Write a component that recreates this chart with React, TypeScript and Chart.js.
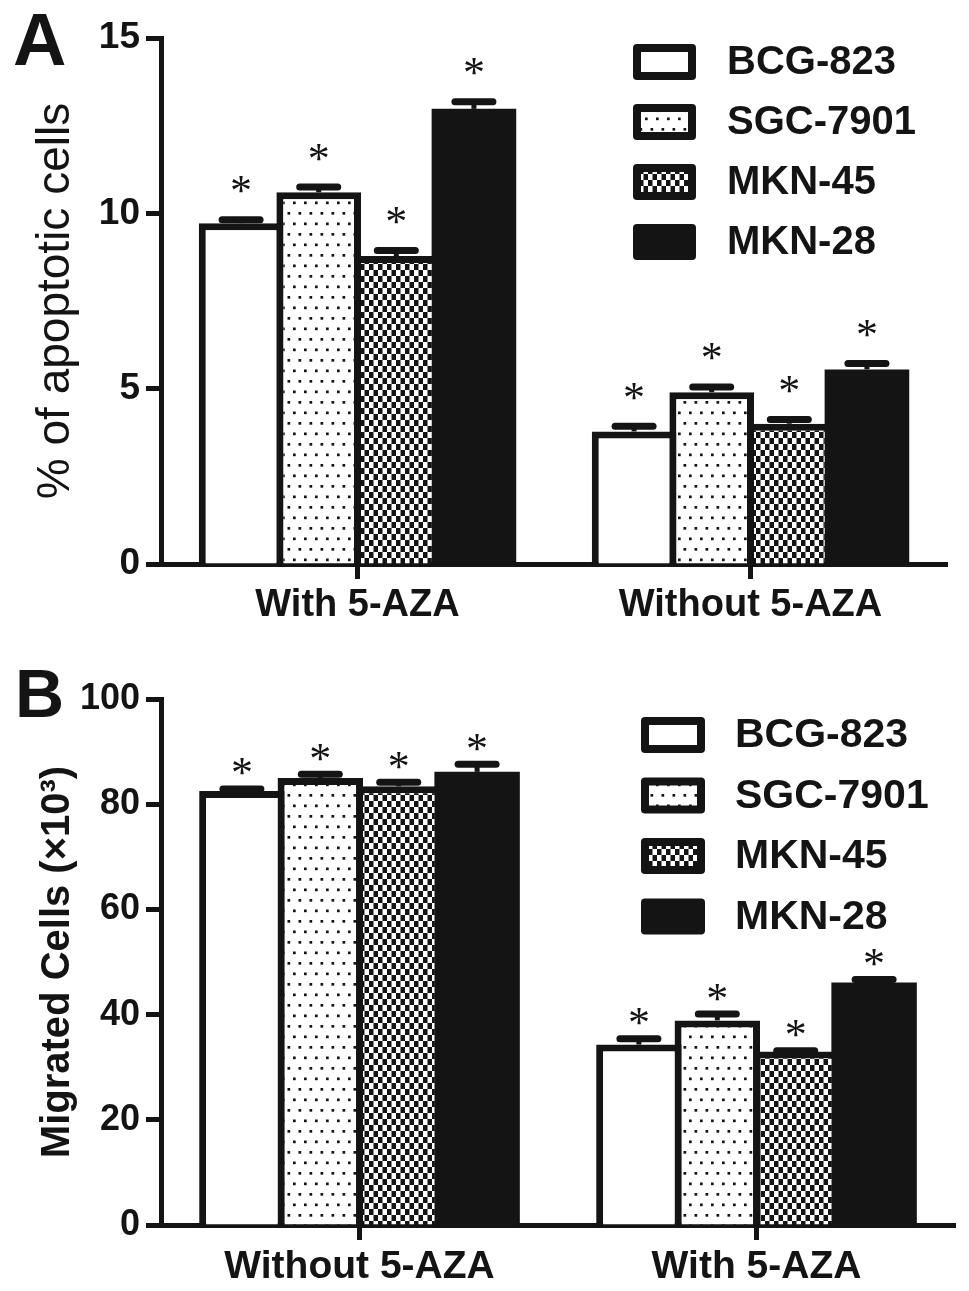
import React, { useEffect, useRef } from 'react';
import { Chart, registerables } from 'chart.js';

Chart.register(...registerables);

const INK = '#141414';
const FONT = '"Liberation Sans", Arial, sans-serif';

const seriesNames = ['BCG-823', 'SGC-7901', 'MKN-45', 'MKN-28'];

// Panel A: % of apoptotic cells
const apoGroups = ['With 5-AZA', 'Without 5-AZA'];
const apoBCG823 = [9.72, 3.78];
const apoSGC7901 = [10.6, 4.9];
const apoMKN45 = [8.78, 4.0];
const apoMKN28 = [12.98, 5.55];
const apoErrBCG823 = [0.1, 0.15];
const apoErrSGC7901 = [0.15, 0.15];
const apoErrMKN45 = [0.16, 0.12];
const apoErrMKN28 = [0.2, 0.17];
const apoTicks = [0, 5, 10, 15];

// Panel B: migrated cells (x10^3)
const migGroups = ['Without 5-AZA', 'With 5-AZA'];
const migBCG823 = [82.5, 34.3];
const migSGC7901 = [85.0, 38.9];
const migMKN45 = [83.4, 33.0];
const migMKN28 = [86.15, 46.1];
const migErrBCG823 = [0.4, 1.1];
const migErrSGC7901 = [0.7, 1.2];
const migErrMKN45 = [0.75, 0.15];
const migErrMKN28 = [1.45, 0.55];
const migTicks = [0, 20, 40, 60, 80, 100];

interface PanelProps {
  height: number;
  letter: string;
  letterSize: number;
  letterX: number;
  letterY: number;
  groups: string[];
  means: number[][];
  errors: number[][];
  yTicks: number[];
  yTitle: string;
  yTitleBold: boolean;
  yTitleSize: number;
  yTitlePad: number;
  tickSize: number;
  xLabelSize: number;
  padTop: number;
  padRight: number;
  plotBottom: number;
  starGap: number;
  legend: { x: number; top: number; pitch: number; w: number; h: number; textX: number; font: number };
}

function makeFills(ctx: CanvasRenderingContext2D): (string | CanvasPattern)[] {
  const dotTile = document.createElement('canvas');
  dotTile.width = 11;
  dotTile.height = 21;
  const d = dotTile.getContext('2d')!;
  d.fillStyle = '#fff';
  d.fillRect(0, 0, 11, 21);
  d.fillStyle = INK;
  d.fillRect(1.5, 2, 2.7, 2.7);
  d.fillRect(7, 12.5, 2.7, 2.7);

  const checkTile = document.createElement('canvas');
  checkTile.width = 9;
  checkTile.height = 12;
  const c = checkTile.getContext('2d')!;
  c.fillStyle = '#fff';
  c.fillRect(0, 0, 9, 12);
  c.fillStyle = INK;
  c.fillRect(0, 0, 4.5, 6);
  c.fillRect(4.5, 6, 4.5, 6);

  return [
    '#ffffff',
    ctx.createPattern(dotTile, 'repeat')!,
    ctx.createPattern(checkTile, 'repeat')!,
    INK,
  ];
}

const BarPanel: React.FC<PanelProps> = (p) => {
  const canvasRef = useRef<HTMLCanvasElement>(null);
  const chartRef = useRef<Chart | null>(null);

  useEffect(() => {
    if (!canvasRef.current) return;
    const ctx = canvasRef.current.getContext('2d');
    if (!ctx) return;
    if (chartRef.current) chartRef.current.destroy();

    const fills = makeFills(ctx);

    // error bars, asterisks, legend and panel letter
    const extras = {
      id: 'panelExtras',
      afterDatasetsDraw(chart: Chart) {
        const c = chart.ctx;
        const y = chart.scales.y;
        p.errors.forEach((errs, di) => {
          const meta = chart.getDatasetMeta(di);
          const vals = p.means[di];
          meta.data.forEach((bar: any, j: number) => {
            const top = y.getPixelForValue(vals[j]);
            const capY = y.getPixelForValue(vals[j] + errs[j]);
            c.save();
            c.strokeStyle = INK;
            c.lineWidth = 5;
            c.beginPath();
            c.moveTo(bar.x, top);
            c.lineTo(bar.x, capY);
            c.stroke();
            c.lineWidth = 7;
            c.lineCap = 'round';
            c.beginPath();
            c.moveTo(bar.x - 19, capY);
            c.lineTo(bar.x + 19, capY);
            c.stroke();
            c.fillStyle = INK;
            c.font = '44px "Liberation Serif", serif';
            c.textAlign = 'center';
            c.textBaseline = 'alphabetic';
            const m = c.measureText('*');
            const cy = capY - p.starGap;
            c.fillText('*', bar.x, cy + (m.actualBoundingBoxAscent - m.actualBoundingBoxDescent) / 2);
            c.restore();
          });
        });
      },
      afterDraw(chart: Chart) {
        const c = chart.ctx;
        const L = p.legend;
        c.save();
        seriesNames.forEach((name, i) => {
          const by = L.top + i * L.pitch;
          c.fillStyle = INK;
          c.beginPath();
          c.roundRect(L.x, by, L.w, L.h, 4);
          c.fill();
          if (i < 3) {
            c.fillStyle = fills[i];
            c.fillRect(L.x + 8, by + 8, L.w - 16, L.h - 16);
          }
          c.fillStyle = INK;
          c.font = `bold ${L.font}px ${FONT}`;
          c.textAlign = 'left';
          c.textBaseline = 'middle';
          c.fillText(name, L.textX, by + L.h / 2 + 1);
        });
        c.font = `bold ${p.letterSize}px ${FONT}`;
        c.textAlign = 'left';
        c.textBaseline = 'alphabetic';
        c.fillText(p.letter, p.letterX, p.letterY);
        c.restore();
      },
    };

    chartRef.current = new Chart(ctx, {
      type: 'bar',
      data: {
        labels: p.groups,
        datasets: seriesNames.map((name, i) => ({
          label: name,
          data: p.means[i],
          backgroundColor: fills[i],
          borderColor: INK,
          // the solid bar needs no outline (avoids a seam inside it)
          borderWidth: i === 3 ? 0 : 7,
          borderSkipped: 'start',
          inflateAmount: 0,
          categoryPercentage: 0.79,
          barPercentage: 1.09,
        })),
      },
      options: {
        responsive: false,
        maintainAspectRatio: false,
        animation: false,
        layout: { padding: { top: p.padTop, right: p.padRight, left: 0, bottom: 0 } },
        plugins: {
          legend: { display: false },
          tooltip: { enabled: false },
        },
        scales: {
          x: {
            type: 'category',
            offset: true,
            grid: {
              display: true,
              drawOnChartArea: false,
              offset: false,
              tickLength: 15,
              tickWidth: 5,
              tickColor: INK,
            },
            border: { display: true, width: 5, color: INK },
            ticks: {
              color: INK,
              padding: 4,
              maxRotation: 0,
              autoSkip: false,
              font: { family: FONT, size: p.xLabelSize, weight: 'bold' },
            },
            afterFit: (scale: any) => {
              scale.height = p.height - p.plotBottom;
            },
          },
          y: {
            min: 0,
            max: p.yTicks[p.yTicks.length - 1],
            grid: {
              display: true,
              drawOnChartArea: false,
              tickLength: 15,
              tickWidth: 5,
              tickColor: INK,
            },
            border: { display: true, width: 5, color: INK },
            ticks: {
              color: INK,
              padding: 6,
              font: { family: FONT, size: p.tickSize, weight: 'bold' },
            },
            afterBuildTicks: (scale: any) => {
              scale.ticks = p.yTicks.map((value) => ({ value }));
            },
            afterFit: (scale: any) => {
              scale.width = 161;
            },
            title: {
              display: true,
              text: p.yTitle,
              color: INK,
              font: { family: FONT, size: p.yTitleSize, weight: p.yTitleBold ? 'bold' : 'normal' },
              padding: { top: p.yTitlePad, bottom: 0 },
            },
          },
        },
      },
      plugins: [extras as any],
    });

    return () => {
      if (chartRef.current) {
        chartRef.current.destroy();
        chartRef.current = null;
      }
    };
  }, [p]);

  return <canvas ref={canvasRef} width={969} height={p.height} style={{ display: 'block', width: 969, height: p.height }} />;
};

const panelA: PanelProps = {
  height: 640,
  letter: 'A',
  letterSize: 74,
  letterX: 13,
  letterY: 65,
  groups: apoGroups,
  means: [apoBCG823, apoSGC7901, apoMKN45, apoMKN28],
  errors: [apoErrBCG823, apoErrSGC7901, apoErrMKN45, apoErrMKN28],
  yTicks: apoTicks,
  yTitle: '% of apoptotic cells',
  yTitleBold: false,
  yTitleSize: 46,
  yTitlePad: 29,
  tickSize: 37,
  xLabelSize: 38,
  padTop: 38,
  padRight: 22,
  plotBottom: 564,
  starGap: 35,
  legend: { x: 633, top: 44, pitch: 60, w: 63, h: 36, textX: 727, font: 40 },
};

const panelB: PanelProps = {
  height: 646,
  letter: 'B',
  letterSize: 68,
  letterX: 15,
  letterY: 72,
  groups: migGroups,
  means: [migBCG823, migSGC7901, migMKN45, migMKN28],
  errors: [migErrBCG823, migErrSGC7901, migErrMKN45, migErrMKN28],
  yTicks: migTicks,
  yTitle: 'Migrated Cells (×10³)',
  yTitleBold: true,
  yTitleSize: 40,
  yTitlePad: 34,
  tickSize: 36,
  xLabelSize: 39,
  padTop: 54,
  padRight: 14,
  plotBottom: 580,
  starGap: 22,
  legend: { x: 641, top: 72, pitch: 60.5, w: 64, h: 36, textX: 735, font: 41 },
};

export default function App() {
  return (
    <div style={{ position: 'absolute', left: 0, top: 0, width: 969, height: 1291, background: '#fff' }}>
      <div style={{ position: 'absolute', left: 0, top: 0 }}>
        <BarPanel {...panelA} />
      </div>
      <div style={{ position: 'absolute', left: 0, top: 645 }}>
        <BarPanel {...panelB} />
      </div>
    </div>
  );
}
